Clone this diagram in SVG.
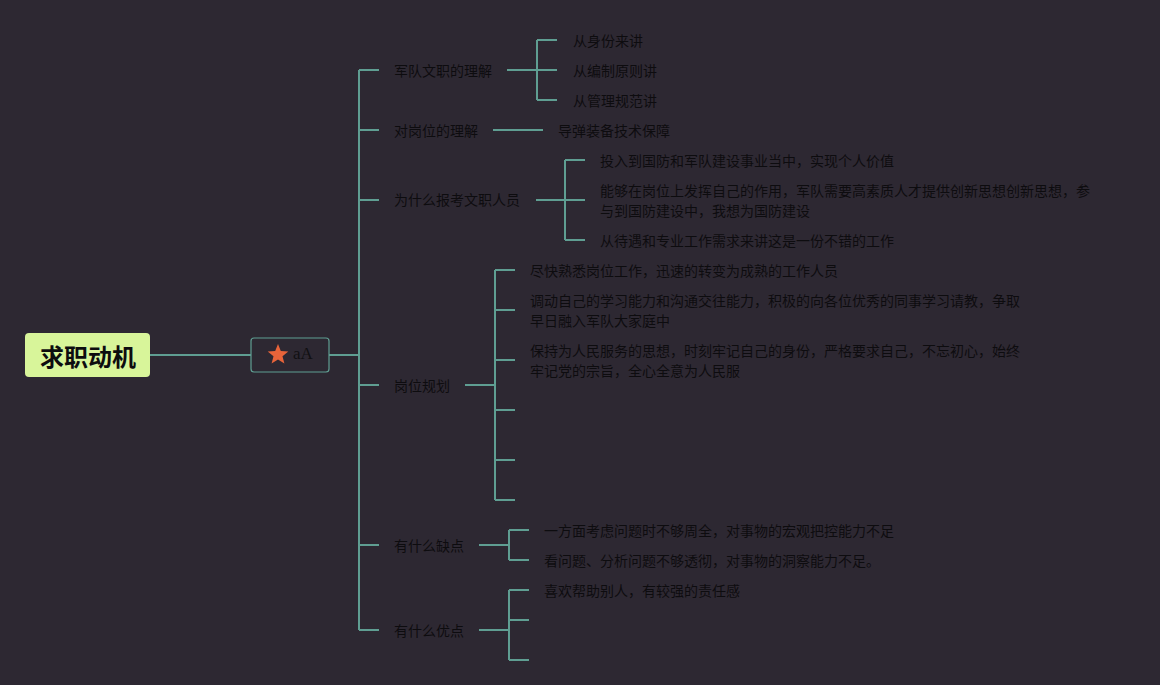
<svg xmlns="http://www.w3.org/2000/svg" width="1160" height="685" viewBox="0 0 1160 685">
<style>
.t{font-family:"Noto Sans CJK SC","Liberation Sans",sans-serif;font-size:14px;fill:#0d0c0f;dominant-baseline:central}
.c{fill:none;stroke:#5f9e92;stroke-width:2}
</style>
<rect width="1160" height="685" fill="#2d2832"/>
<g id="connectors" class="c">
<path d="M150 355H251M329 355H359M359 70V630M359 70H379M359 130H379M359 200H379M359 385H379M359 545H379M359 630H379"/>
<path d="M507 70H537M537 40V100M537 40H557M537 70H557M537 100H557"/>
<path d="M493 130H543"/>
<path d="M536 200H565M565 160V240M565 160H585M565 200H585M565 240H585"/>
<path d="M465 385H495M495 270V500M495 270H515M495 310H515M495 360H515M495 410H515M495 460H515M495 500H515"/>
<path d="M479 545H509M509 530V560M509 530H529M509 560H529"/>
<path d="M479 630H509M509 590V660M509 590H529M509 620H529M509 660H529"/>
</g>
<g id="root">
<rect x="25" y="333" width="125" height="44" rx="4" fill="#d8f59a"/>
<text x="88" y="355" text-anchor="middle" style="font-family:'Noto Sans CJK SC','Liberation Sans',sans-serif;font-size:24px;font-weight:bold;fill:#0d0c0f;dominant-baseline:central">求职动机</text>
</g>
<g id="hub">
<rect x="251" y="338" width="78" height="34" rx="3" fill="#2d2832" stroke="#5f9e92" stroke-width="1.2"/>
<polygon points="278,344 280.8,351 288.3,351.5 282.5,356.3 284.4,363.6 278,359.6 271.6,363.6 273.5,356.3 267.7,351.5 275.2,351" fill="#e8643a"/>
<text x="293" y="353" style="font-family:'Liberation Serif',serif;font-size:17px;fill:#111013;dominant-baseline:central">aA</text>
</g>
<g id="n1"><text class="t" x="394" y="70">军队文职的理解</text></g>
<g id="n1a"><text class="t" x="573" y="40">从身份来讲</text></g>
<g id="n1b"><text class="t" x="573" y="70">从编制原则讲</text></g>
<g id="n1c"><text class="t" x="573" y="100">从管理规范讲</text></g>
<g id="n2"><text class="t" x="394" y="130">对岗位的理解</text></g>
<g id="n2a"><text class="t" x="558" y="130">导弹装备技术保障</text></g>
<g id="n3"><text class="t" x="394" y="199">为什么报考文职人员</text></g>
<g id="n3a"><text class="t" x="600" y="160">投入到国防和军队建设事业当中，实现个人价值</text></g>
<g id="n3b"><text class="t" x="600" y="190">能够在岗位上发挥自己的作用，军队需要高素质人才提供创新思想创新思想，参</text><text class="t" x="600" y="210">与到国防建设中，我想为国防建设</text></g>
<g id="n3c"><text class="t" x="600" y="240">从待遇和专业工作需求来讲这是一份不错的工作</text></g>
<g id="n4"><text class="t" x="394" y="385">岗位规划</text></g>
<g id="n4a"><text class="t" x="530" y="270">尽快熟悉岗位工作，迅速的转变为成熟的工作人员</text></g>
<g id="n4b"><text class="t" x="530" y="300">调动自己的学习能力和沟通交往能力，积极的向各位优秀的同事学习请教，争取</text><text class="t" x="530" y="320">早日融入军队大家庭中</text></g>
<g id="n4c"><text class="t" x="530" y="350">保持为人民服务的思想，时刻牢记自己的身份，严格要求自己，不忘初心，始终</text><text class="t" x="530" y="370">牢记党的宗旨，全心全意为人民服</text></g>
<g id="n5"><text class="t" x="394" y="545">有什么缺点</text></g>
<g id="n5a"><text class="t" x="544" y="530">一方面考虑问题时不够周全，对事物的宏观把控能力不足</text></g>
<g id="n5b"><text class="t" x="544" y="560">看问题、分析问题不够透彻，对事物的洞察能力不足。</text></g>
<g id="n6"><text class="t" x="394" y="630">有什么优点</text></g>
<g id="n6a"><text class="t" x="544" y="590">喜欢帮助别人，有较强的责任感</text></g>
</svg>
